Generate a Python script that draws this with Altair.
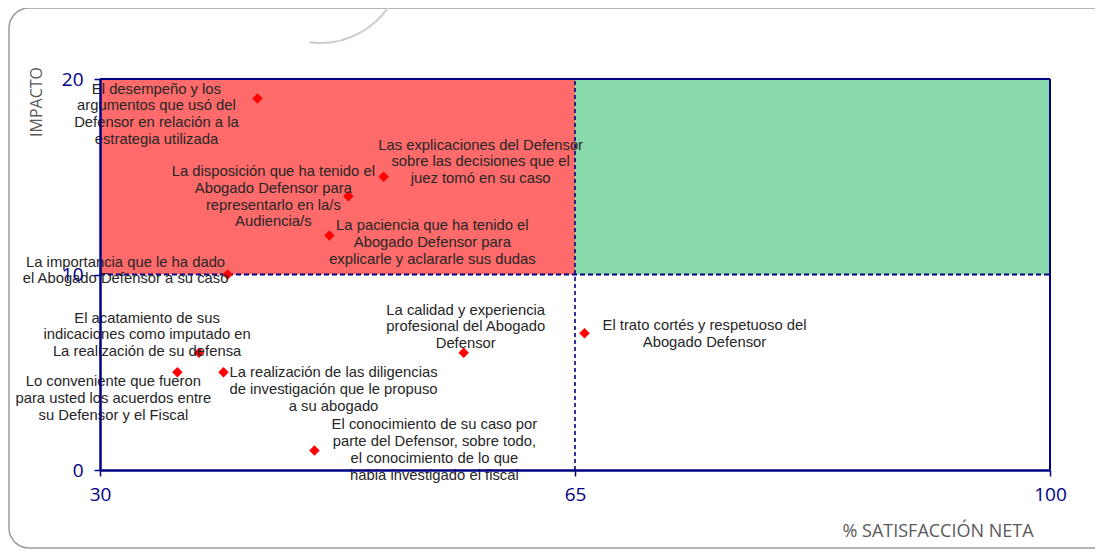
import altair as alt
import pandas as pd

# ---------------- data ----------------
items = [
    "El desempeño y los\nargumentos que usó del\nDefensor en relación a la\nestrategia utilizada",
    "La disposición que ha tenido el\nAbogado Defensor para\nrepresentarlo en la/s\nAudiencia/s",
    "Las explicaciones del Defensor\nsobre las decisiones que el\njuez tomó en su caso",
    "La paciencia que ha tenido el\nAbogado Defensor para\nexplicarle y aclararle sus dudas",
    "La importancia que le ha dado\nel Abogado Defensor a su caso",
    "El acatamiento de sus\nindicaciones como imputado en\nLa realización de su defensa",
    "Lo conveniente que fueron\npara usted  los acuerdos entre\nsu Defensor y el Fiscal",
    "La realización de las diligencias\nde investigación que le propuso\na su abogado",
    "El conocimiento de su caso por\nparte del Defensor, sobre todo,\nel conocimiento de lo que\nhabia investigado el fiscal",
    "La calidad y experiencia\nprofesional del Abogado\nDefensor",
    "El trato cortés y respetuoso del\nAbogado Defensor",
]
satisfaccion = [41.6, 48.3, 50.9, 46.9, 39.4, 37.3, 35.7, 39.1, 45.8, 56.8, 65.7]
impacto = [19, 14, 15, 12, 10, 6, 5, 5, 1, 6, 7]

x_ticks = [30, 65, 100]
y_ticks = [0, 10, 20]
x_domain = [30, 100]
y_domain = [0, 20]
x_cut = 65
y_cut = 10

zone_x = [30, 65]
zone_x2 = [65, 100]
zone_y = [10, 10]
zone_y2 = [20, 20]
zone_color = ["#ff6a6a", "#88d9ab"]

x_title = "% SATISFACCIÓN NETA"
y_title = "IMPACTO"

# label offsets in pixels (first text line relative to its point; style only)
label_dx = [-101, -75, 97, 103, -102, -52, -64, 110, 120, 2, 120]
label_dy = [-9, -24, -31, -9, -12, -34, 10, 1, -25, -42, -7]

# ---------------- styling ----------------
NAVY = "#000080"
GRAY = "#595959"
W, H = 950, 391

df = pd.DataFrame({"sat": satisfaccion, "imp": impacto, "label": items})
zones = pd.DataFrame({"x": zone_x, "x2": zone_x2, "y": zone_y, "y2": zone_y2, "c": zone_color})

xscale = alt.Scale(domain=x_domain, nice=False, zero=False)
yscale = alt.Scale(domain=y_domain, nice=False, zero=False)

x_axis = alt.Axis(values=x_ticks, labelFlush=False, labelOverlap=False, labelColor=NAVY,
                  labelFont="Open Sans", labelFontSize=19, labelPadding=9, tickSize=6,
                  tickColor=NAVY, tickWidth=1.5, domainColor=NAVY, domainWidth=2.5,
                  grid=False, title=None, zindex=1)
y_axis = alt.Axis(values=y_ticks, labelFlush=False, labelOverlap=False, labelColor=NAVY,
                  labelFont="Open Sans", labelFontSize=19, labelPadding=11, tickSize=6,
                  tickColor=NAVY, tickWidth=1.5, domainColor=NAVY, domainWidth=2.5,
                  grid=False, title=None, zindex=1)


def X(f):
    return alt.X(f, scale=xscale, axis=x_axis)


def Y(f):
    return alt.Y(f, scale=yscale, axis=y_axis)


zone_layer = alt.Chart(zones).mark_rect().encode(
    x=X("x:Q"), x2="x2:Q", y=Y("y:Q"), y2="y2:Q",
    color=alt.Color("c:N", scale=None),
)

vline = alt.Chart(pd.DataFrame({"x": [x_cut], "y": [y_domain[0]], "y2": [y_domain[1]]})).mark_rule(
    color=NAVY, strokeWidth=1.6, strokeDash=[4, 3]
).encode(x=X("x:Q"), y=Y("y:Q"), y2="y2:Q")

hline = alt.Chart(pd.DataFrame({"y": [y_cut], "x": [x_domain[0]], "x2": [x_domain[1]]})).mark_rule(
    color=NAVY, strokeWidth=2, strokeDash=[5, 3]
).encode(y=Y("y:Q"), x=X("x:Q"), x2="x2:Q")

top_border = alt.Chart(pd.DataFrame({"y": [y_domain[1]], "x": [x_domain[0]], "x2": [x_domain[1]]})).mark_rule(
    color=NAVY, strokeWidth=2
).encode(y=Y("y:Q"), x=X("x:Q"), x2="x2:Q")

right_border = alt.Chart(pd.DataFrame({"x": [x_domain[1]], "y": [y_domain[0]], "y2": [y_domain[1]]})).mark_rule(
    color=NAVY, strokeWidth=2
).encode(x=X("x:Q"), y=Y("y:Q"), y2="y2:Q")

points = alt.Chart(df).mark_point(shape="diamond", filled=True, color="#ff0000", size=110, opacity=1).encode(
    x=X("sat:Q"), y=Y("imp:Q"),
)

text_layers = []
for i in range(len(items)):
    text_layers.append(
        alt.Chart(df.iloc[[i]]).mark_text(
            dx=label_dx[i], dy=label_dy[i], align="center", baseline="middle",
            lineBreak="\n", lineHeight=16.7, font="Liberation Sans", fontSize=14.8, color="#262626"
        ).encode(x=X("sat:Q"), y=Y("imp:Q"), text="label:N")
    )

ytitle = alt.Chart(pd.DataFrame({"t": [y_title]})).mark_text(
    angle=270, font="Open Sans", fontSize=16, color=GRAY, align="center", baseline="middle"
).encode(x=alt.value(-63), y=alt.value(23), text="t:N")

xtitle = alt.Chart(pd.DataFrame({"t": [x_title]})).mark_text(
    font="Open Sans", fontSize=18, color=GRAY, align="center", baseline="middle"
).encode(x=alt.value(838), y=alt.value(453), text="t:N")

frame = alt.Chart(pd.DataFrame({"f": [0]})).mark_rect(
    fill="transparent", stroke="#9c9c9c", strokeWidth=1.5, cornerRadius=20
).encode(x=alt.value(-91), x2=alt.value(1080), y=alt.value(-71), y2=alt.value(469))

arc = alt.Chart(pd.DataFrame({"f": [0]})).mark_arc(
    fill="transparent", stroke="#cccccc", strokeWidth=2, radius=83, radius2=83,
    theta=2.0, theta2=3.27
).encode(x=alt.value(220), y=alt.value(-119))

chart = alt.layer(
    zone_layer, frame, arc, vline, hline, top_border, right_border, points, *text_layers, ytitle, xtitle
).properties(
    width=W, height=H,
    padding={"left": 92, "top": 71, "right": 45, "bottom": 81},
    autosize=alt.AutoSizeParams(type="none"),
).configure_view(strokeWidth=0)

chart.save("out.html", embed_options={"renderer": "svg", "actions": False})
